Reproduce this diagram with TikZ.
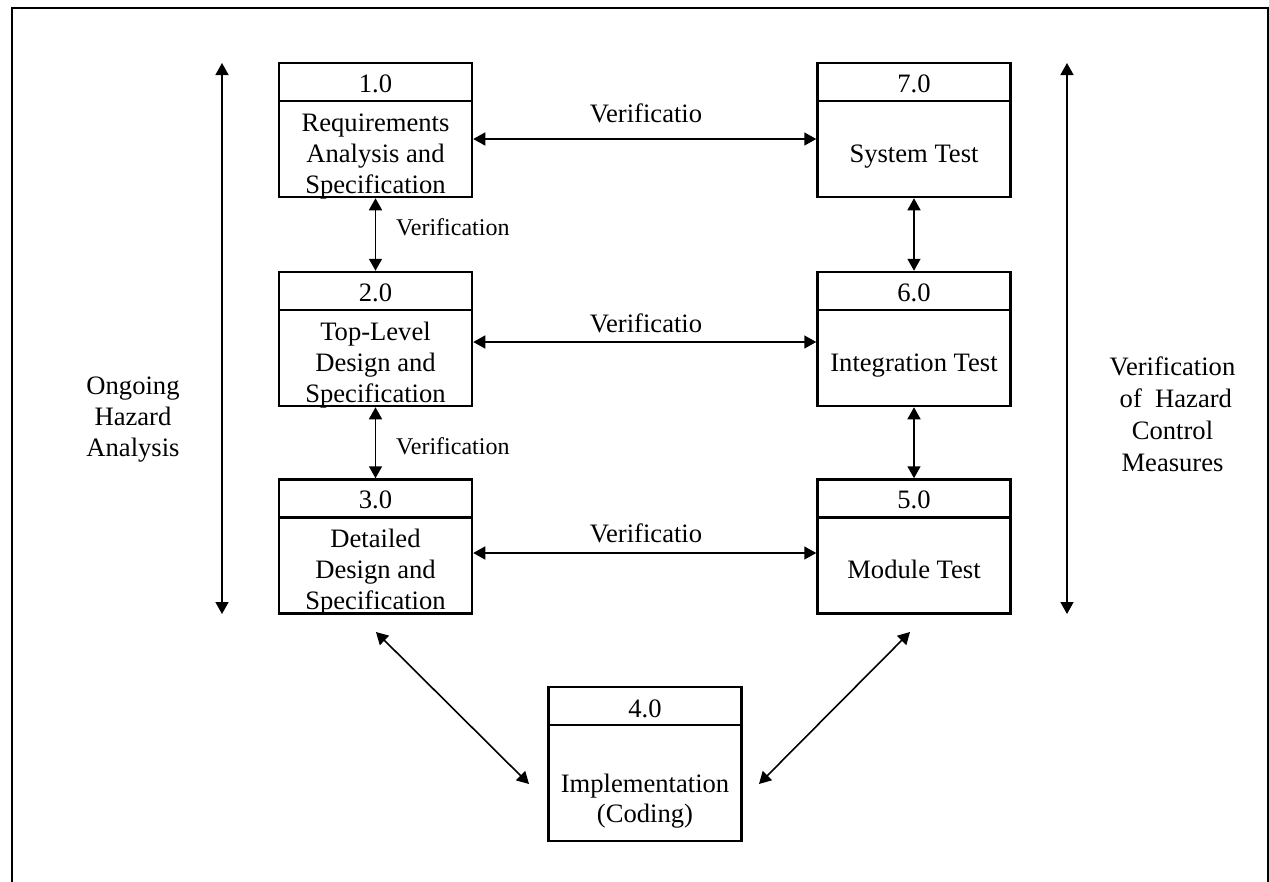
\documentclass[tikz,border=0pt]{standalone}
\usepackage{fontspec}
\setmainfont{Liberation Serif}
\usetikzlibrary{arrows.meta}
\tikzset{
  box/.style={draw, line width=2.5pt, minimum width=193pt, minimum height=134pt, inner sep=0pt},
  bigbox/.style={box, minimum height=154pt},
  txt/.style={font=\fontsize{26.6}{32}\selectfont, anchor=base, inner sep=0pt},
  smalltxt/.style={font=\fontsize{24}{29}\selectfont, anchor=base west, inner sep=0pt},
  divider/.style={line width=2.5pt},
  link/.style={line width=1.6pt, {Triangle[length=12pt,width=13pt]}-{Triangle[length=12pt,width=13pt]}},
  frame/.style={line width=2pt},
}
\begin{document}
\begin{tikzpicture}[x=1pt,y=-1pt]
\useasboundingbox (0,0) rectangle (1269,881);
\draw[frame] (11.5,900) -- (11.5,7.5) -- (1267.5,7.5) -- (1267.5,900);

% boxes
\node[box] (b1) at (375.5,130) {};
\node[box] (b2) at (375.5,339) {};
\node[box] (b3) at (375.5,546.5) {};
\node[box] (b7) at (914,130) {};
\node[box] (b6) at (914,339) {};
\node[box] (b5) at (914,546.5) {};
\node[bigbox] (b4) at (645,764) {};

\foreach \b in {b1,b2,b3,b7,b6,b5,b4}{
  \draw[divider] ([yshift=-39pt]\b.north west) -- ([yshift=-39pt]\b.north east);
}

% headers
\node[txt] (h1) at (375.5,92) {1.0};
\node[txt] (h2) at (375.5,301) {2.0};
\node[txt] (h3) at (375.5,508) {3.0};
\node[txt] (h7) at (914,92) {7.0};
\node[txt] (h6) at (914,301) {6.0};
\node[txt] (h5) at (914,508) {5.0};
\node[txt] (h4) at (645,717) {4.0};

% body texts (clipped at box edges)
\begin{scope}
\clip (b1.south west) rectangle (b1.north east);
\node[txt] (t1a) at (375.5,131) {Requirements};
\node[txt] (t1b) at (375.5,162) {Analysis and};
\node[txt] (t1c) at (375.5,193) {Specification};
\end{scope}
\begin{scope}
\clip (b2.south west) rectangle (b2.north east);
\node[txt] (t2a) at (375.5,340) {Top-Level};
\node[txt] (t2b) at (375.5,371) {Design and};
\node[txt] (t2c) at (375.5,402) {Specification};
\end{scope}
\begin{scope}
\clip (b3.south west) rectangle (b3.north east);
\node[txt] (t3a) at (375.5,547) {Detailed};
\node[txt] (t3b) at (375.5,578) {Design and};
\node[txt] (t3c) at (375.5,609) {Specification};
\end{scope}
\node[txt] (t7) at (914,162) {System Test};
\node[txt] (t6) at (914,371) {Integration Test};
\node[txt] (t5) at (914,578) {Module Test};
\node[txt] (t4a) at (645,792) {Implementation};
\node[txt] (t4b) at (645,822) {(Coding)};

% vertical links
\draw[link] (b1.south) -- (b2.north);
\draw[link] (b2.south) -- (b3.north);
\draw[link] (b7.south) -- (b6.north);
\draw[link] (b6.south) -- (b5.north);
\node[smalltxt] (v12) at (396,235) {Verification};
\node[smalltxt] (v23) at (396,454) {Verification};

% horizontal links
\coordinate (r1) at (0,139);
\coordinate (r2) at (0,342);
\coordinate (r3) at (0,553);
\draw[link] (b1.east |- r1) -- (b7.west |- r1);
\draw[link] (b2.east |- r2) -- (b6.west |- r2);
\draw[link] (b3.east |- r3) -- (b5.west |- r3);
\node[txt] (l1) at (646,122) {Verificatio};
\node[txt] (l2) at (646,332) {Verificatio};
\node[txt] (l3) at (646,542) {Verificatio};

% diagonal links to implementation
\coordinate (d1) at (376,632);
\coordinate (d2) at (529,784);
\coordinate (d3) at (910,632);
\coordinate (d4) at (759,784);
\draw[link] (d1) -- (d2);
\draw[link] (d3) -- (d4);

% side arrows
\coordinate (la1) at (222,63);
\coordinate (la2) at (222,614);
\coordinate (ra1) at (1067,63);
\coordinate (ra2) at (1067,614);
\draw[link] (la1) -- (la2);
\draw[link] (ra1) -- (ra2);

\node[txt] (s1) at (133,394) {Ongoing};
\node[txt] (s2) at (133,425) {Hazard};
\node[txt] (s3) at (133,456) {Analysis};

\node[txt] (q1) at (1172.5,375) {Verification};
\node[txt] (q2) at (1172.5,407) {\ of\ \ Hazard};
\node[txt] (q3) at (1172.5,439) {Control};
\node[txt] (q4) at (1172.5,471) {Measures};
\end{tikzpicture}
\end{document}
